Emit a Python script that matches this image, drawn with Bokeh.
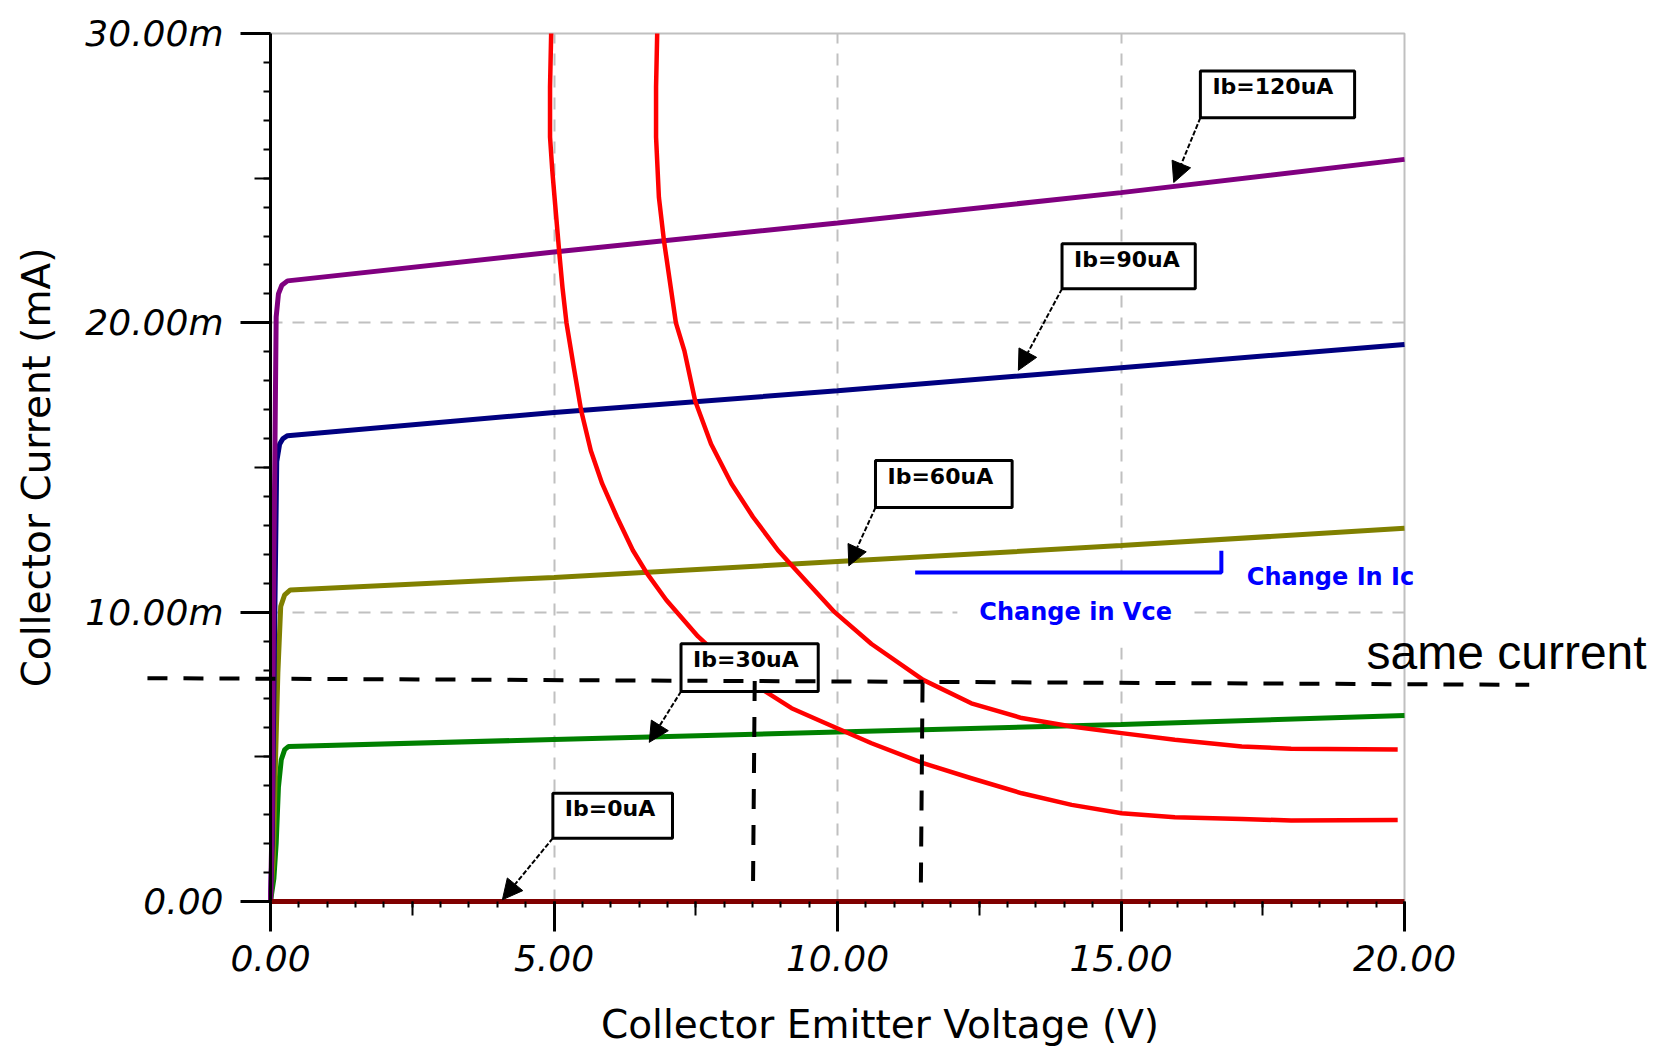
from bokeh.plotting import figure
from bokeh.models import (FixedTicker, Range1d, Label, Arrow, NormalHead, LinearAxis,
                          PrintfTickFormatter, CustomJSTickFormatter)
from bokeh.embed import file_html
from bokeh.resources import INLINE
from bokeh.core.properties import value

# ---------------- data (Vce in V, Ic in mA) ----------------
vce_120 = [0, 0.03, 0.06, 0.10, 0.14, 0.20, 0.30, 5, 10, 15, 20]
ic_120 = [0, 3.0, 12.0, 20.2, 21.0, 21.3, 21.45, 22.45, 23.45, 24.5, 25.65]
vce_90 = [0, 0.03, 0.07, 0.11, 0.16, 0.22, 0.30, 5, 10, 15, 20]
ic_90 = [0, 2.0, 9.0, 15.2, 15.8, 16.0, 16.1, 16.9, 17.65, 18.45, 19.25]
vce_60 = [0, 0.05, 0.09, 0.13, 0.18, 0.25, 0.35, 5, 10, 15, 20]
ic_60 = [0, 1.5, 5.0, 7.9, 10.2, 10.6, 10.77, 11.2, 11.75, 12.3, 12.9]
vce_30 = [0, 0.06, 0.10, 0.14, 0.19, 0.25, 0.32, 5, 10, 15, 20]
ic_30 = [0, 0.8, 2.0, 3.95, 4.9, 5.25, 5.36, 5.6, 5.86, 6.12, 6.43]
vce_0 = [0, 20]
ic_0 = [0, 0]

# red curves
red1_v = [4.95, 4.93, 4.93, 4.97, 5.02, 5.09, 5.15, 5.22, 5.35, 5.48, 5.65, 5.85,
          6.11, 6.39, 6.64, 6.98, 7.54, 8.18, 8.54, 9.19, 9.72, 10.6, 11.51, 12.36,
          13.25, 14.13, 15.01, 15.95, 17.13, 18.0, 19.88]
red1_i = [30, 28.15, 26.42, 25.26, 24.1, 22.49, 21.21, 20.0, 18.45, 16.96, 15.58, 14.44,
          13.29, 12.14, 11.34, 10.42, 9.16, 8.0, 7.49, 6.68, 6.22, 5.47, 4.78, 4.26,
          3.74, 3.34, 3.05, 2.91, 2.85, 2.8, 2.82]
red2_v = [6.82, 6.80, 6.80, 6.85, 6.94, 7.06, 7.15, 7.30, 7.49, 7.77, 8.13, 8.51,
          8.95, 9.48, 9.95, 10.6, 11.51, 12.36, 13.25, 14.13, 15.01, 15.95, 17.13,
          18.0, 19.88]
red2_i = [30, 28.15, 26.42, 24.34, 22.83, 21.21, 20.0, 19.03, 17.3, 15.81, 14.44, 13.29,
          12.14, 11.0, 10.0, 8.9, 7.66, 6.85, 6.34, 6.05, 5.82, 5.59, 5.36,
          5.28, 5.25]

# "same current" construction lines
same_v = [-2.17, 22.2]
same_i = [7.72, 7.49]
drop1_v = [8.54, 8.51]
drop1_i = [7.62, 0.5]
drop2_v = [11.5, 11.47]
drop2_i = [7.57, 0.44]

# "change in" bracket
bracket_v = [11.37, 16.77, 16.77]
bracket_i = [11.37, 11.37, 12.12]

# callouts
callout_text = ["Ib=120uA", "Ib=90uA", "Ib=60uA", "Ib=30uA", "Ib=0uA"]
callout_left = [16.40, 13.96, 10.67, 7.24, 4.98]
callout_right = [19.12, 16.31, 13.08, 9.66, 7.09]
callout_top = [28.70, 22.73, 15.24, 8.91, 3.74]
callout_bottom = [27.09, 21.18, 13.62, 7.26, 2.19]
callout_tip_v = [15.93, 13.19, 10.20, 6.68, 4.09]
callout_tip_i = [24.85, 18.36, 11.60, 5.50, 0.06]

x_major = [0, 5, 10, 15, 20]
x_minor = [k * 0.5 for k in range(41)]
x_medium = [2.5, 7.5, 12.5, 17.5]
x_grid = [5, 10, 15]
y_major = [0, 10, 20, 30]
y_minor = list(range(31))
y_medium = [5, 15, 25]
y_grid = [10, 20]

# ---------------- figure ----------------
W, H = 1660, 1050
PX_L, PX_R, PX_T, PX_B = 270, 1404, 33, 901     # screen position of the data box
sx = (PX_R - PX_L) / (x_major[-1] - x_major[0])
sy = (PX_B - PX_T) / (y_major[-1] - y_major[0])
xr = Range1d(-PX_L / sx, (W - PX_L) / sx)
yr = Range1d(y_major[-1] - (H - PX_T) / sy, y_major[-1] + PX_T / sy)

p = figure(width=W, height=H, x_range=xr, y_range=yr,
           output_backend="svg", toolbar_location=None,
           min_border_left=0, min_border_right=0, min_border_top=0, min_border_bottom=0)
p.background_fill_color = "white"
p.border_fill_color = "white"
p.outline_line_color = None

# grid
p.xgrid.ticker = FixedTicker(ticks=x_grid)
p.ygrid.ticker = FixedTicker(ticks=y_grid)
grid_ok = True
try:
    p.xgrid[0].cross_bounds = (y_major[0], y_major[-1])
    p.ygrid[0].cross_bounds = (x_major[0], x_major[-1])
except Exception:
    grid_ok = False
for g in (p.xgrid, p.ygrid):
    g.grid_line_color = "#c0c0c0"
    g.grid_line_width = 2
    g.grid_line_dash = "12 10"
if not grid_ok:
    p.xgrid.visible = False
    p.ygrid.visible = False
    p.segment(x0=x_grid, x1=x_grid, y0=[y_major[0]] * 3, y1=[y_major[-1]] * 3,
              line_color="#c0c0c0", line_width=2, line_dash="12 10")
    p.segment(x0=[x_major[0]] * 2, x1=[x_major[-1]] * 2, y0=y_grid, y1=y_grid,
              line_color="#c0c0c0", line_width=2, line_dash="12 10")

# solid top / right border of the data box
p.line([x_major[0], x_major[-1], x_major[-1]], [y_major[-1], y_major[-1], y_major[0]],
       line_color="#c0c0c0", line_width=2)

# axes
xa = p.xaxis[0]
xa.fixed_location = 0
xa.bounds = (x_major[0], x_major[-1])
xa.ticker = FixedTicker(ticks=x_major, minor_ticks=x_minor)
xa.formatter = PrintfTickFormatter(format="%.2f")
ya = p.yaxis[0]
ya.fixed_location = 0
ya.bounds = (y_major[0], y_major[-1])
ya.ticker = FixedTicker(ticks=y_major, minor_ticks=y_minor)
ya.formatter = CustomJSTickFormatter(code="return tick == 0 ? '0.00' : tick.toFixed(2) + 'm';")

for ax in (xa, ya):
    ax.axis_line_color = "black"
    ax.axis_line_width = 3
    ax.major_tick_in = 0
    ax.major_tick_out = 30
    ax.minor_tick_in = 0
    ax.major_tick_line_width = 3
    ax.minor_tick_line_width = 2
    ax.major_tick_line_color = "black"
    ax.minor_tick_line_color = "black"
    ax.major_label_text_font = "DejaVu Sans"
    ax.major_label_text_font_style = "italic"
    ax.major_label_text_font_size = "36px"
    ax.major_label_text_color = "black"
    ax.axis_label_text_font = "DejaVu Sans"
    ax.axis_label_text_font_style = "normal"
    ax.axis_label_text_font_size = "39px"
    ax.axis_label_text_color = "black"
xa.axis_line_color = None          # the Ib=0 trace lies on the axis
xa.minor_tick_out = 6
ya.minor_tick_out = 7

ya.axis_label = "Collector Current (mA)"
ya.major_label_standoff = 17
ya.axis_label_standoff = 23
xa.major_label_standoff = 13

# x-axis title carried by a tick-less axis whose span is slightly wider (title sits right of centre)
xtitle = LinearAxis(fixed_location=0, bounds=(0, 21.5), ticker=FixedTicker(ticks=[]),
                    axis_line_color=None, major_tick_in=0, major_tick_out=0,
                    minor_tick_in=0, minor_tick_out=0,
                    axis_label="Collector Emitter Voltage (V)",
                    axis_label_standoff=100,
                    axis_label_text_font="DejaVu Sans", axis_label_text_font_size="39px",
                    axis_label_text_font_style="normal", axis_label_text_color="black")
p.add_layout(xtitle, "below")

# medium-length ticks (extra tick-only axes at the same location)
xmed = LinearAxis(fixed_location=0, bounds=(x_major[0], x_major[-1]),
                  ticker=FixedTicker(ticks=x_medium),
                  formatter=CustomJSTickFormatter(code="return '';"),
                  axis_line_color=None, major_tick_in=0, major_tick_out=14,
                  major_tick_line_width=2, major_tick_line_color="black",
                  minor_tick_out=0, minor_tick_in=0)
p.add_layout(xmed, "below")
ymed = LinearAxis(fixed_location=0, bounds=(y_major[0], y_major[-1]),
                  ticker=FixedTicker(ticks=y_medium),
                  formatter=CustomJSTickFormatter(code="return '';"),
                  axis_line_color=None, major_tick_in=0, major_tick_out=16,
                  major_tick_line_width=2, major_tick_line_color="black",
                  minor_tick_out=0, minor_tick_in=0)
p.add_layout(ymed, "left")

# transistor curves
p.line(vce_30, ic_30, line_color="#008000", line_width=5)
p.line(vce_60, ic_60, line_color="#808000", line_width=5)
p.line(vce_90, ic_90, line_color="#000080", line_width=5)
p.line(vce_120, ic_120, line_color="#800080", line_width=5)
p.line(vce_0, ic_0, line_color="#800000", line_width=5)

# red curves
p.line(red1_v, red1_i, line_color="#ff0000", line_width=4.5, line_join="round")
p.line(red2_v, red2_i, line_color="#ff0000", line_width=4.5, line_join="round")

# blue bracket and texts
p.line(bracket_v, bracket_i, line_color="#0000ff", line_width=4)
p.add_layout(Label(x=17.22, y=11.2, text="Change In Ic", text_color="#0000ff",
                   text_font="DejaVu Sans", text_font_style="bold", text_font_size="24px",
                   text_align="left", text_baseline="middle"))
try:
    vce_lbl = Label(x=14.2, y=10.02, text="Change in Vce", text_color="#0000ff",
                    text_font="DejaVu Sans", text_font_style="bold", text_font_size="24px",
                    text_align="center", text_baseline="middle",
                    background_fill_color="white", padding=22)
except Exception:
    vce_lbl = Label(x=14.2, y=10.02, text="Change in Vce", text_color="#0000ff",
                    text_font="DejaVu Sans", text_font_style="bold", text_font_size="24px",
                    text_align="center", text_baseline="middle",
                    background_fill_color="white")
p.add_layout(vce_lbl)

# callouts
p.quad(left=callout_left, right=callout_right, top=callout_top, bottom=callout_bottom,
       fill_color="white", line_color="black", line_width=3)
p.text(x=callout_left, y=callout_top, text=callout_text, x_offset=12, y_offset=3,
       text_font=value("DejaVu Sans"), text_font_style="bold", text_font_size="22px",
       text_color="black", text_align="left", text_baseline="top")
for i in range(len(callout_text)):
    p.add_layout(Arrow(end=NormalHead(size=20, fill_color="black", line_color="black"),
                       x_start=callout_left[i], y_start=callout_bottom[i],
                       x_end=callout_tip_v[i], y_end=callout_tip_i[i],
                       line_color="black", line_width=2, line_dash="5 2"))

# same current construction
p.line(same_v, same_i, line_color="black", line_width=4, line_dash="20 16")
p.line(drop1_v, drop1_i, line_color="black", line_width=4, line_dash="20 16")
p.line(drop2_v, drop2_i, line_color="black", line_width=4, line_dash="20 16")
p.add_layout(Label(x=19.33, y=8.62, text="same current", text_color="black",
                   text_font="Liberation Sans", text_font_size="48px",
                   text_align="left", text_baseline="alphabetic"))

open("out.html", "w").write(file_html(p, INLINE))
